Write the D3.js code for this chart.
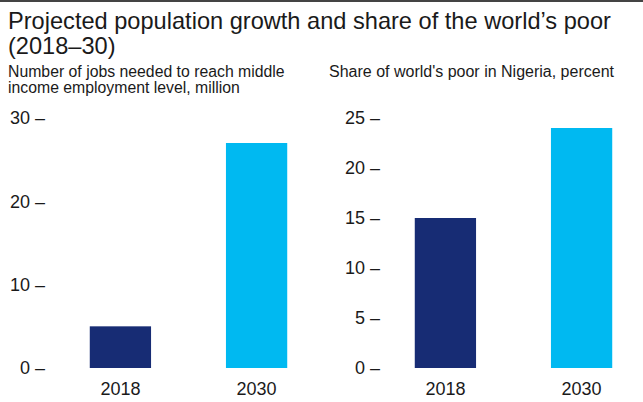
<!DOCTYPE html>
<html>
<head>
<meta charset="utf-8">
<script src="https://cdn.jsdelivr.net/npm/d3@7"></script>
<style>
  body { margin: 0; background: #fff; }
  svg text { font-family: "Liberation Sans", Arial, sans-serif; fill: #1a1a1a; }
  .axis path { display: none; }
</style>
</head>
<body>
<div id="chart"></div>
<script>
const years = ["2018", "2030"];
const jobsNeeded = [5, 27];
const poorShare = [15, 24];
const jobsTicks = [0, 10, 20, 30];
const poorTicks = [0, 5, 10, 15, 20, 25];
const barColors = ["#172C74", "#00B9F1"];

const width = 643;
const height = 402;

const svg = d3.select("#chart").append("svg")
  .attr("width", width)
  .attr("height", height);

// top rule
svg.append("line")
  .attr("x1", 0).attr("x2", width)
  .attr("y1", 1).attr("y2", 1)
  .attr("stroke", "#444")
  .attr("stroke-width", 2);

// title
const title = svg.append("text")
  .attr("x", 8)
  .style("font-size", "23.6px");
title.append("tspan").attr("x", 8).attr("y", 29)
  .text("Projected population growth and share of the world’s poor");
title.append("tspan").attr("x", 8).attr("y", 54)
  .text("(2018–30)");

function panel(opts) {
  const y = d3.scaleLinear().domain([0, opts.max]).range([368, 118]);
  const x = d3.scaleBand()
    .domain(years)
    .range(opts.xRange)
    .paddingInner(0.55)
    .paddingOuter(0.27);

  const sub = svg.append("text").style("font-size", opts.subSize);
  opts.subtitle.forEach((line, i) => {
    sub.append("tspan").attr("x", opts.subX).attr("y", 77 + i * 16).text(line);
  });

  const g = svg.append("g");

  g.selectAll("rect")
    .data(opts.values)
    .enter()
    .append("rect")
    .attr("x", (d, i) => x(years[i]))
    .attr("y", (d) => y(d))
    .attr("width", x.bandwidth())
    .attr("height", (d) => y(0) - y(d))
    .attr("fill", (d, i) => barColors[i]);

  g.append("g")
    .attr("class", "axis")
    .attr("transform", `translate(${opts.axisX},0)`)
    .call(d3.axisLeft(y).tickValues(opts.ticks).tickSize(0).tickPadding(0)
      .tickFormat((d) => d + " –"))
    .selectAll("text")
    .style("font-size", "18px")
    .attr("fill", "#1a1a1a");

  g.append("g")
    .attr("class", "axis")
    .attr("transform", "translate(0,368)")
    .call(d3.axisBottom(x).tickSize(0).tickPadding(14))
    .selectAll("text")
    .style("font-size", "18px")
    .attr("fill", "#1a1a1a");
}

panel({
  max: 30,
  values: jobsNeeded,
  ticks: jobsTicks,
  xRange: [53, 324],
  axisX: 45,
  subX: 8,
  subSize: "15.8px",
  subtitle: ["Number of jobs needed to reach middle", "income employment level, million"]
});

panel({
  max: 25,
  values: poorShare,
  ticks: poorTicks,
  xRange: [378, 649],
  axisX: 380,
  subX: 329,
  subSize: "16px",
  subtitle: ["Share of world's poor in Nigeria, percent"]
});
</script>
</body>
</html>
